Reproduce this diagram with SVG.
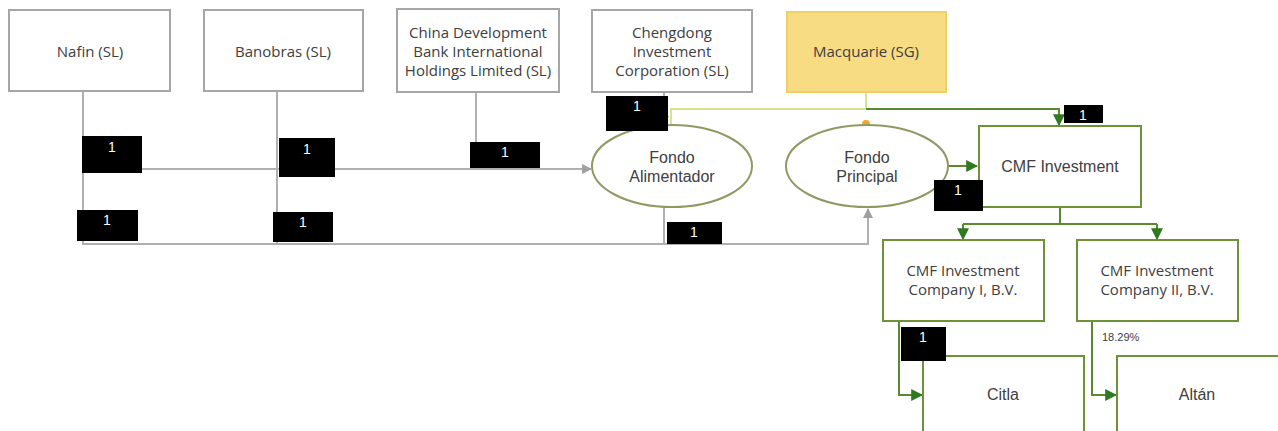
<svg xmlns="http://www.w3.org/2000/svg" width="1278" height="431" viewBox="0 0 1278 431">
<defs>
<style>
.gbox{fill:#ffffff;stroke:#a6a6a6;stroke-width:2}
.mq{fill:#f8dc84;stroke:#f0d060;stroke-width:2}
.ell{fill:#ffffff;stroke:#8e9a62;stroke-width:2}
.grn{fill:#ffffff;stroke:#6f9137;stroke-width:2}
.t1{font-family:"Open Sans","Liberation Sans",sans-serif;font-size:15px;fill:#404040;text-anchor:middle}
.t2{font-family:"Liberation Sans",Arial,sans-serif;font-size:16px;fill:#404040;text-anchor:middle}
.gl{fill:none;stroke:#b0b0b0;stroke-width:2}
.yl{fill:none;stroke:#d6e48e;stroke-width:2}
.gn{fill:none;stroke:#5a8a2e;stroke-width:2}
.blk{fill:#000000}
.lb{font-family:"Liberation Sans",Arial,sans-serif;font-size:14px;fill:#ffffff;text-anchor:middle}
.pct{font-family:"Liberation Sans",Arial,sans-serif;font-size:11px;fill:#404040}
</style>
<marker id="ag" viewBox="0 0 10 10" refX="9" refY="5" markerWidth="5" markerHeight="5" orient="auto"><path d="M0,0 L10,5 L0,10 z" fill="#a0a0a0"/></marker>
<marker id="an" viewBox="0 0 10 10" refX="9" refY="5" markerWidth="6" markerHeight="6" orient="auto"><path d="M0,0 L10,5 L0,10 z" fill="#2f7a1e"/></marker>
</defs>
<rect width="1278" height="431" fill="#ffffff"/>
<g id="connectors">
<path class="gl" d="M83,92 V244 H868 V209" marker-end="url(#ag)"/>
<path class="gl" d="M83,169 H591" marker-end="url(#ag)"/>
<path class="gl" d="M277,92 V244"/>
<path class="gl" d="M476,92 V169"/>
<path class="gl" d="M664,92 V125" marker-end="url(#ag)"/>
<path class="gl" d="M664,207 V244"/>
<path class="yl" d="M866,92 V109 H671 V126"/>
<path class="gn" d="M866,109 H1059 V125" marker-end="url(#an)"/>
<path class="gn" d="M948,166 H977" marker-end="url(#an)"/>
<path class="gn" d="M1060,207 V224"/>
<path class="gn" d="M963,224 H1157"/>
<path class="gn" d="M963,224 V239" marker-end="url(#an)"/>
<path class="gn" d="M1157,224 V239" marker-end="url(#an)"/>
<path class="gn" d="M899,321 V395 H922" marker-end="url(#an)"/>
<path class="gn" d="M1092,321 V395 H1116" marker-end="url(#an)"/>
<circle cx="866" cy="124" r="4" fill="#f5a623"/>
</g>
<g id="nafin"><rect class="gbox" x="9" y="10" width="161" height="81"/><text class="t1" x="90" y="57">Nafin (SL)</text></g>
<g id="banobras"><rect class="gbox" x="204" y="10" width="159" height="81"/><text class="t1" x="283" y="57">Banobras (SL)</text></g>
<g id="china"><rect class="gbox" x="397" y="9" width="162" height="83"/>
<text class="t1" x="478" y="38">China Development</text><text class="t1" x="478" y="57">Bank International</text><text class="t1" x="478" y="76">Holdings Limited (SL)</text></g>
<g id="chengdong"><rect class="gbox" x="592" y="10" width="160" height="82"/>
<text class="t1" x="672" y="38">Chengdong</text><text class="t1" x="672" y="57">Investment</text><text class="t1" x="672" y="76">Corporation (SL)</text></g>
<g id="macquarie"><rect class="mq" x="787" y="12" width="159" height="80"/><text class="t1" x="866" y="57">Macquarie (SG)</text></g>
<g id="fondo-alimentador"><ellipse class="ell" cx="672" cy="166" rx="80" ry="41"/>
<text class="t2" x="672" y="163">Fondo</text><text class="t2" x="672" y="182">Alimentador</text></g>
<g id="fondo-principal"><ellipse class="ell" cx="867" cy="166" rx="81" ry="41"/>
<text class="t2" x="867" y="163">Fondo</text><text class="t2" x="867" y="182">Principal</text></g>
<g id="cmf-investment"><rect class="grn" x="979" y="126" width="162" height="81"/><text class="t2" x="1060" y="172">CMF  Investment</text></g>
<g id="cmf-i"><rect class="grn" x="883" y="240" width="161" height="81"/>
<text class="t1" x="963" y="276">CMF Investment</text><text class="t1" x="963" y="295">Company I, B.V.</text></g>
<g id="cmf-ii"><rect class="grn" x="1077" y="240" width="161" height="81"/>
<text class="t1" x="1157" y="276">CMF Investment</text><text class="t1" x="1157" y="295">Company II, B.V.</text></g>
<g id="citla"><rect class="grn" x="923" y="356" width="161" height="90"/><text class="t2" x="1003" y="400">Citla</text></g>
<g id="altan"><rect class="grn" x="1117" y="356" width="170" height="90"/><text class="t2" x="1197" y="400">Altán</text></g>
<text class="pct" x="1102" y="341">18.29%</text>
<g id="labels">
<rect class="blk" x="82" y="136" width="60" height="37"/><text class="lb" x="112" y="152">1</text>
<rect class="blk" x="279" y="138" width="56" height="39"/><text class="lb" x="307" y="154">1</text>
<rect class="blk" x="77" y="210" width="61" height="31"/><text class="lb" x="107" y="225">1</text>
<rect class="blk" x="273" y="212" width="60" height="30"/><text class="lb" x="303" y="227">1</text>
<rect class="blk" x="470" y="142" width="70" height="26"/><text class="lb" x="505" y="157">1</text>
<rect class="blk" x="606" y="96" width="62" height="35"/><text class="lb" x="637" y="111">1</text>
<rect class="blk" x="667" y="222" width="55" height="22"/><text class="lb" x="694" y="237">1</text>
<rect class="blk" x="1064" y="105" width="39" height="18"/><text class="lb" x="1083" y="120">1</text>
<rect class="blk" x="934" y="180" width="49" height="31"/><text class="lb" x="958" y="195">1</text>
<rect class="blk" x="901" y="327" width="45" height="34"/><text class="lb" x="923" y="342">1</text>
</g>
</svg>
